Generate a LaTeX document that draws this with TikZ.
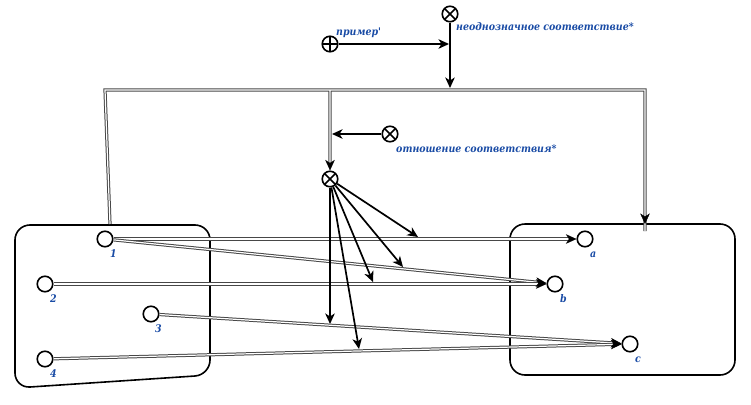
\documentclass[tikz,border=0pt]{standalone}
\usepackage{fontspec}
\newfontfamily\labfont{DejaVu Serif Condensed}
\usetikzlibrary{arrows.meta,decorations.markings,calc}
\definecolor{labblue}{RGB}{25,75,165}
\begin{document}
\begin{tikzpicture}[x=1pt,y=-1pt,
  dot/.style={circle,draw,line width=1.6pt,minimum size=15.5pt,inner sep=0pt},
  otimesnode/.style={dot,path picture={
     \draw[line width=1.5pt] ($(path picture bounding box.center)+(45:9pt)$) -- ($(path picture bounding box.center)+(225:9pt)$);
     \draw[line width=1.5pt] ($(path picture bounding box.center)+(135:9pt)$) -- ($(path picture bounding box.center)+(315:9pt)$);}},
  oplusnode/.style={dot,path picture={
     \draw[line width=1.5pt] ($(path picture bounding box.center)+(0:9pt)$) -- ($(path picture bounding box.center)+(180:9pt)$);
     \draw[line width=1.5pt] ($(path picture bounding box.center)+(90:9pt)$) -- ($(path picture bounding box.center)+(270:9pt)$);}},
  lab/.style={font=\labfont\bfseries\itshape\fontsize{10.5}{12}\selectfont,text=labblue,inner sep=0pt,anchor=base west},
  tiparrow/.style={line width=1.7pt,-{Stealth[length=10.5pt,width=9.5pt,inset=3pt]}},
  dbl/.style={draw=black!72,line width=1pt,double=white,double distance=1.2pt},
  dblhead/.style={decoration={markings,mark=at position 1 with {\arrow[black]{Stealth[length=10.5pt,width=9.5pt,inset=3pt]}}},decorate},
  region/.style={draw,line width=1.6pt,rounded corners=15pt}
]
\useasboundingbox (0,0) rectangle (751,404);

% regions
\draw[region] (15,225) -- (210,225) -- (210,375) -- (15,388) -- cycle;
\draw[region] (510,224) rectangle (735,375);

% points
\node[dot] (n1) at (105,239) {};
\node[dot] (n2) at (45,284) {};
\node[dot] (n3) at (151,314) {};
\node[dot] (n4) at (45,359) {};
\node[dot] (na) at (585,239) {};
\node[dot] (nb) at (555,284) {};
\node[dot] (nc) at (630,344) {};
\node[lab] (l1) at (110,257) {1};
\node[lab] (l2) at (50,302) {2};
\node[lab] (l3) at (155,332) {3};
\node[lab] (l4) at (50,377) {4};
\node[lab] (la) at (590,257) {a};
\node[lab] (lb) at (560,302) {b};
\node[lab] (lc) at (635,362) {c};

% mapping double lines
\draw[dbl,shorten >=7pt] (n1) -- (na);
\draw[dbl,shorten >=7pt] (n1) -- (nb);
\draw[dbl,shorten >=7pt] (n2) -- (nb);
\draw[dbl,shorten >=7pt] (n3) -- (nc);
\draw[dbl,shorten >=7pt] (n4) -- (nc);
\path[dblhead] (n1) -- (na);
\path[dblhead] (n1) -- (nb);
\path[dblhead] (n2) -- (nb);
\path[dblhead] (n3) -- (nc);
\path[dblhead] (n4) -- (nc);

% top symbols
\node[otimesnode] (amb) at (450,14) {};
\node[oplusnode] (ex) at (330,44) {};
\node[otimesnode] (rel) at (390,134) {};
\node[otimesnode] (hub) at (330,179) {};
\node[lab] (tamb) at (456,31) {неоднозначное соответствие*};
\node[lab] (tex) at (336,36) {пример'};
\node[lab] (trel) at (396,152) {отношение соответствия*};

% frame coordinates
\coordinate (fl) at (110,224);
\coordinate (ftl) at (105,90);
\coordinate (ftr) at (645,90);
\coordinate (fr) at (645,224);
\coordinate (fm) at (330,90);
\coordinate (fjoin) at (450,88);
\coordinate (exjoin) at (449,44);
\coordinate (reljoin) at (332,134);

\draw[dbl] (fl) -- (ftl) -- (ftr) -- ([yshift=-7pt]fr) (fm) -- ([yshift=7pt]hub.north);
\path[dblhead] (ftr) -- (fr);
\path[dblhead] (fm) -- (hub.north);

\draw[tiparrow] (amb) -- (fjoin);
\draw[tiparrow] (ex) -- (exjoin);
\draw[tiparrow] (rel) -- (reljoin);

% hub arrows
\coordinate (h1) at (418,237);
\coordinate (h2) at (403,267);
\coordinate (h3) at (373,282);
\coordinate (h4) at (330,324);
\coordinate (h5) at (359,349);
\foreach \t in {h1,h2,h3,h4,h5} \draw[tiparrow] (hub) -- (\t);
\end{tikzpicture}
\end{document}
